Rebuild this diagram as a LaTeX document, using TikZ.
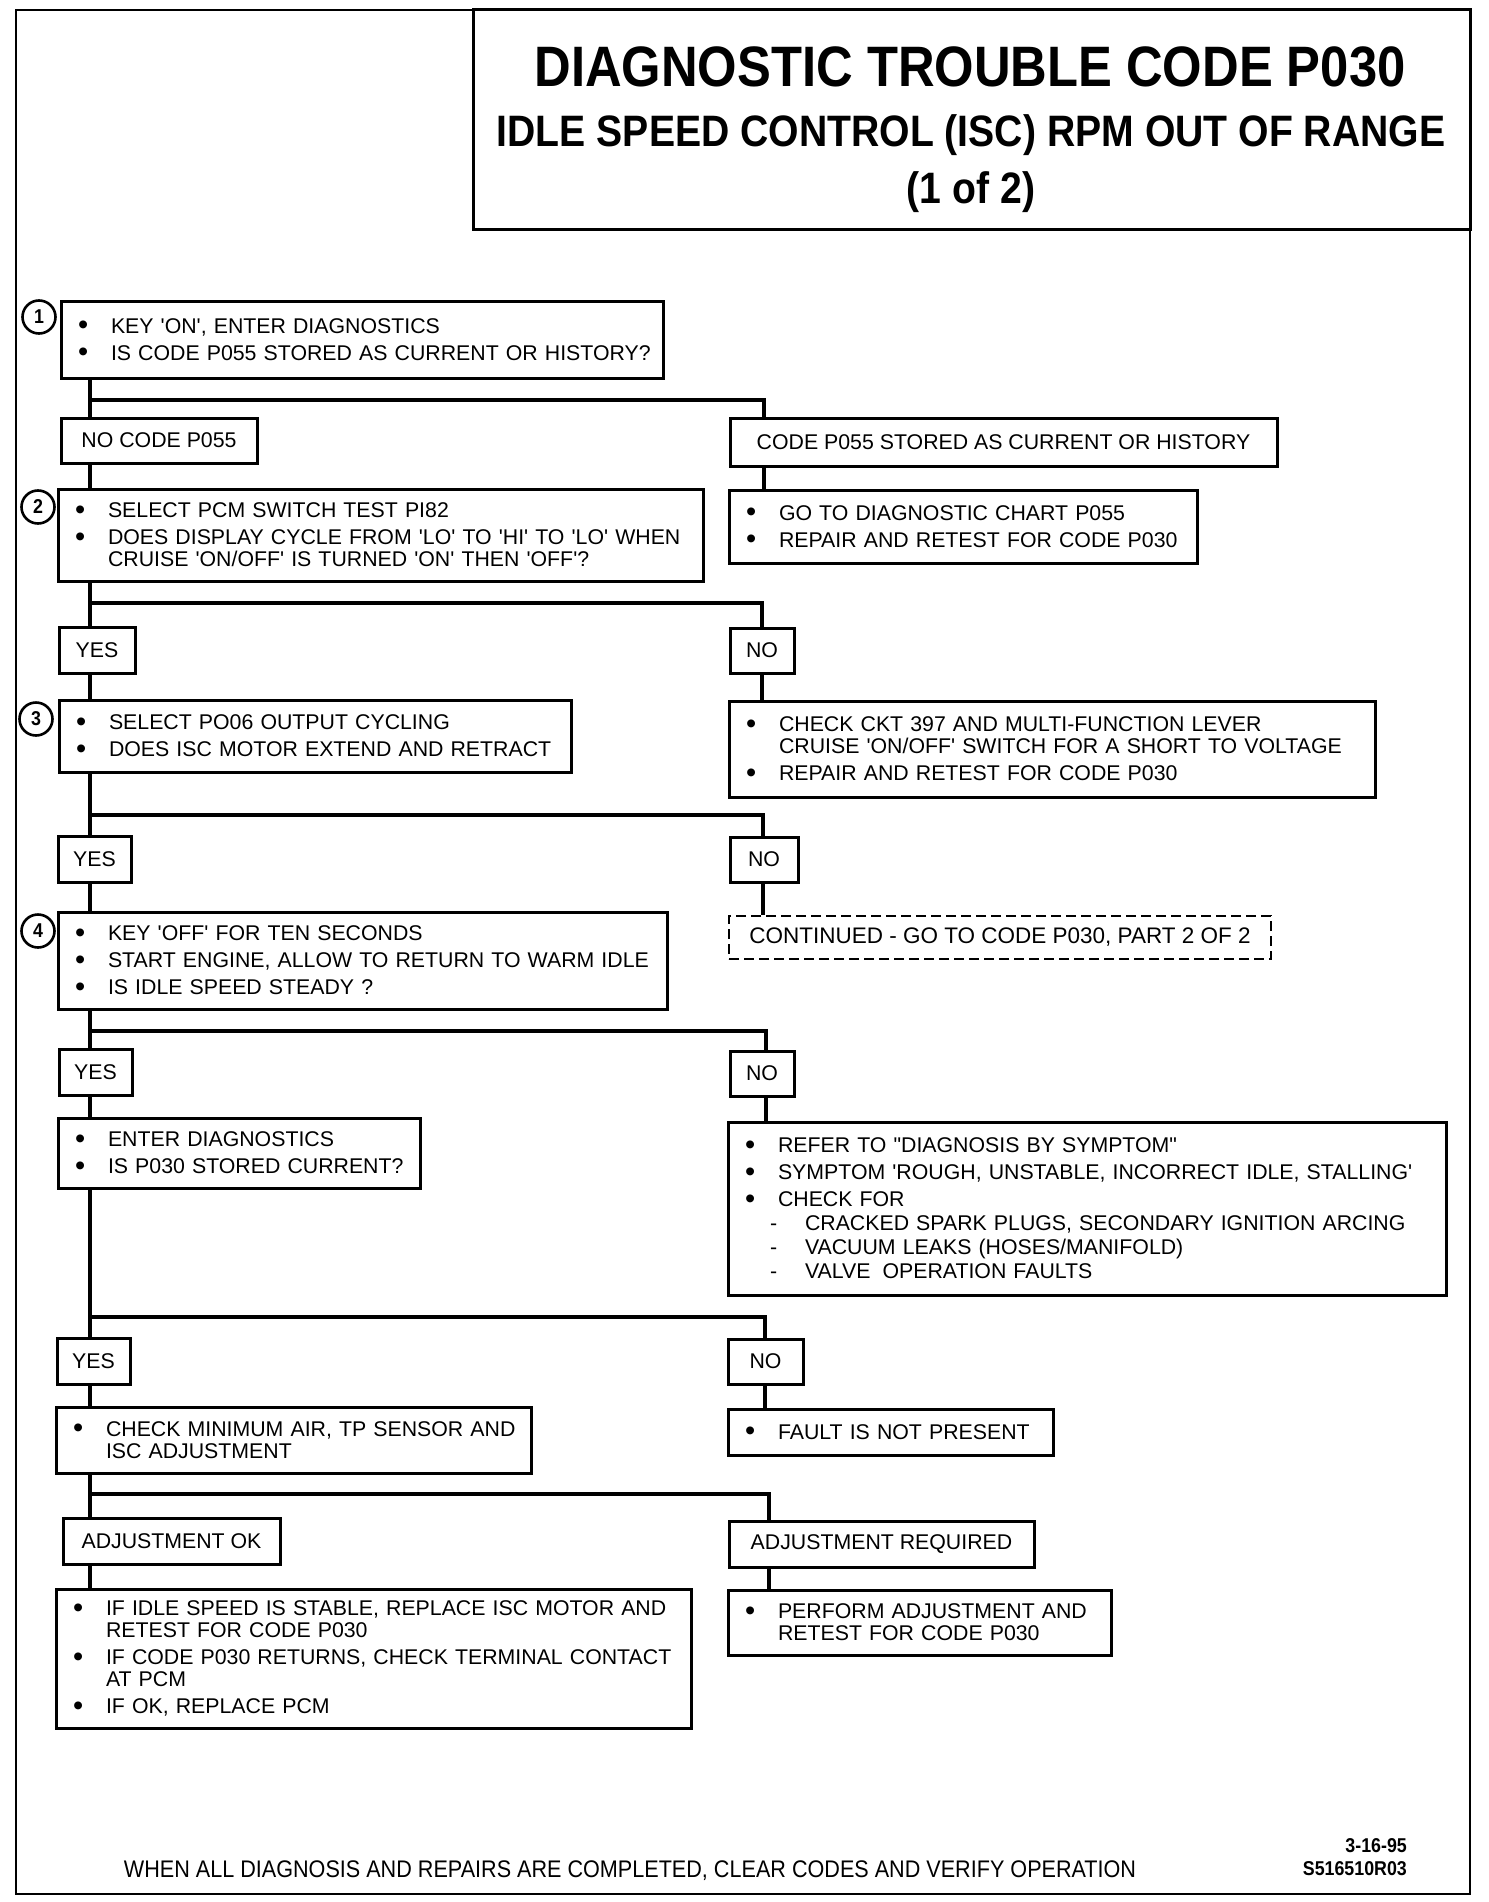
\documentclass[tikz,border=0pt]{standalone}
\usepackage{fontspec}
\setmainfont{Liberation Sans}[Ligatures=TeXOff]
\newfontfamily\titlefont{Liberation Sans}[FakeStretch=0.89]
\newfontfamily\footfont{Liberation Sans}[FakeStretch=0.9]
\newcommand\bodyfont{\fontsize{21.3}{22}\selectfont}
\newcommand\bl[1]{\makebox[46pt][l]{\hspace{13pt}\raisebox{-1.5pt}[0pt][0pt]{\fontsize{29}{22}\selectfont\textbullet}}\mbox{#1}}
\newcommand\cl[1]{\hspace*{46pt}\mbox{#1}}
\newcommand\dl[1]{\hspace*{38pt}\makebox[35pt][l]{-}\mbox{#1}}
\hyphenpenalty=10000
\exhyphenpenalty=10000
\tikzset{
  bx/.style n args={3}{draw, line width=3pt, align=left, inner xsep=4pt, inner ysep=0pt,
    font=\bodyfont, minimum width=#1pt, text width=#2pt, minimum height=#3pt},
  lab/.style n args={2}{draw, line width=3pt, align=center, inner sep=0pt,
    font=\bodyfont, minimum width=#1pt, minimum height=#2pt},
  conn/.style={line width=4pt},
  num/.style={circle, draw, line width=2.6pt, minimum size=33pt, inner sep=0pt,
    font=\titlefont\bfseries\fontsize{20}{20}\selectfont}
}
\begin{document}
\begin{tikzpicture}[x=1pt,y=-1pt]
\useasboundingbox (0,0) rectangle (1488,1902);
% frame and title
\draw[line width=2pt] (16,10) rectangle (1470,1894);
\node[draw, line width=3pt, minimum width=997pt, minimum height=220pt, inner sep=0pt] (title) at (971.5,120) {};
\node[font=\titlefont\bfseries\fontsize{57}{57}\selectfont] (t1) at (970,67) {DIAGNOSTIC TROUBLE CODE P030};
\node[font=\titlefont\bfseries\fontsize{44}{44}\selectfont] (t2) at (971,135) {IDLE SPEED CONTROL (ISC) RPM OUT OF RANGE};
\node[font=\titlefont\bfseries\fontsize{44}{44}\selectfont] (t3) at (971,192) {(1 of 2)};

% step numbers
\node[num] (n1) at (39,317) {1};
\node[num] (n2) at (38,507) {2};
\node[num] (n3) at (36,719) {3};
\node[num] (n4) at (38,931) {4};

% left column
\node[bx={602}{594}{77}] (b1) at (362,339.5) {\bl{KEY 'ON', ENTER DIAGNOSTICS}\\[5pt]\bl{IS CODE P055 STORED AS CURRENT OR HISTORY?}};
\node[lab={196}{45}] (nocode) at (159,440.5) {NO CODE P055};
\node[bx={645}{637}{92}] (b2) at (380.5,535) {\bl{SELECT PCM SWITCH TEST PI82}\\[5pt]\bl{DOES DISPLAY CYCLE FROM 'LO' TO 'HI' TO 'LO' WHEN}\\\cl{CRUISE 'ON/OFF' IS TURNED 'ON' THEN 'OFF'?}};
\node[lab={76}{46}] (yes2) at (97,650) {YES};
\node[bx={512}{504}{72}] (b3) at (315,736) {\bl{SELECT PO06 OUTPUT CYCLING}\\[5pt]\bl{DOES ISC MOTOR EXTEND AND RETRACT}};
\node[lab={73}{46}] (yes3) at (94.5,859) {YES};
\node[bx={609}{601}{97}] (b4) at (362.5,960.5) {\bl{KEY 'OFF' FOR TEN SECONDS}\\[5pt]\bl{START ENGINE, ALLOW TO RETURN TO WARM IDLE}\\[5pt]\bl{IS IDLE SPEED STEADY ?}};
\node[lab={73}{46}] (yes4) at (95.5,1072) {YES};
\node[bx={362}{354}{70}] (b5) at (239,1153) {\bl{ENTER DIAGNOSTICS}\\[5pt]\bl{IS P030 STORED CURRENT?}};
\node[lab={73}{46}] (yes5) at (93.5,1361) {YES};
\node[bx={475}{467}{66}] (b6) at (293.5,1440) {\bl{CHECK MINIMUM AIR, TP SENSOR AND}\\\cl{ISC ADJUSTMENT}};
\node[lab={217}{46}] (adjok) at (171.5,1541) {ADJUSTMENT OK};
\node[bx={635}{627}{139}] (b7) at (373.5,1658.5) {\bl{IF IDLE SPEED IS STABLE, REPLACE ISC MOTOR AND}\\\cl{RETEST FOR CODE P030}\\[5pt]\bl{IF CODE P030 RETURNS, CHECK TERMINAL CONTACT}\\\cl{AT PCM}\\[5pt]\bl{IF OK, REPLACE PCM}};

% right column
\node[lab={547}{48}] (code) at (1003.5,442) {CODE P055 STORED AS CURRENT OR HISTORY};
\node[bx={468}{460}{73}] (r1) at (963,526.5) {\bl{GO TO DIAGNOSTIC CHART P055}\\[5pt]\bl{REPAIR AND RETEST FOR CODE P030}};
\node[lab={64}{45}] (no2) at (762,650.5) {NO};
\node[bx={646}{638}{96}] (r2) at (1052,749) {\bl{CHECK CKT 397 AND MULTI-FUNCTION LEVER}\\\cl{CRUISE 'ON/OFF' SWITCH FOR A SHORT TO VOLTAGE}\\[5pt]\bl{REPAIR AND RETEST FOR CODE P030}};
\node[lab={68}{45}] (no3) at (764,859.5) {NO};
\node[draw, line width=2.6pt, dash pattern=on 10pt off 5pt, inner sep=0pt, font=\bodyfont,
  minimum width=542pt, minimum height=43pt] (cont) at (1000,937.5) {\fontsize{22.5}{22}\selectfont CONTINUED - GO TO CODE P030, PART 2 OF 2};
\node[lab={64}{45}] (no4) at (762,1073.5) {NO};
\node[bx={718}{710}{173}] (r4) at (1087,1208.5) {\bl{REFER TO "DIAGNOSIS BY SYMPTOM"}\\[5pt]\bl{SYMPTOM 'ROUGH, UNSTABLE, INCORRECT IDLE, STALLING'}\\[5pt]\bl{CHECK FOR}\\[2pt]\dl{CRACKED SPARK PLUGS, SECONDARY IGNITION ARCING}\\[2pt]\dl{VACUUM LEAKS (HOSES/MANIFOLD)}\\[2pt]\dl{VALVE\hspace{12pt}OPERATION FAULTS}};
\node[lab={75}{45}] (no5) at (765.5,1361.5) {NO};
\node[bx={325}{317}{46}] (r5) at (890.5,1432) {\bl{FAULT IS NOT PRESENT}};
\node[lab={305}{46}] (adjreq) at (881.5,1544) {ADJUSTMENT REQUIRED};
\node[bx={383}{375}{65}] (r6) at (919.5,1622.5) {\bl{PERFORM ADJUSTMENT AND}\\\cl{RETEST FOR CODE P030}};

% footer
\node[font=\footfont\fontsize{24}{24}\selectfont] (foot) at (630,1871) {WHEN ALL DIAGNOSIS AND REPAIRS ARE COMPLETED, CLEAR CODES AND VERIFY OPERATION};
\node[anchor=east, font=\titlefont\bfseries\fontsize{20}{20}\selectfont, inner sep=0pt] (date) at (1407,1846) {3-16-95};
\node[anchor=east, font=\titlefont\bfseries\fontsize{20}{20}\selectfont, inner sep=0pt] (ref) at (1407,1869) {S516510R03};

% connectors
\coordinate (T) at (90,0);
\coordinate (j1) at (90,400);  \coordinate (R1) at (764,400);
\coordinate (j2) at (90,603);  \coordinate (R2) at (762,603);
\coordinate (j3) at (90,815);  \coordinate (R3) at (763,815);
\coordinate (j4) at (90,1031); \coordinate (R4) at (766,1031);
\coordinate (j5) at (90,1317); \coordinate (R5) at (765,1317);
\coordinate (j6) at (90,1494); \coordinate (R6) at (769,1494);

\draw[conn] (b1.south -| T) -- (nocode.north -| T);
\draw[conn] (nocode.south -| T) -- (b2.north -| T);
\draw[conn] (b2.south -| T) -- (yes2.north -| T);
\draw[conn] (yes2.south -| T) -- (b3.north -| T);
\draw[conn] (b3.south -| T) -- (yes3.north -| T);
\draw[conn] (yes3.south -| T) -- (b4.north -| T);
\draw[conn] (b4.south -| T) -- (yes4.north -| T);
\draw[conn] (yes4.south -| T) -- (b5.north -| T);
\draw[conn] (b5.south -| T) -- (yes5.north -| T);
\draw[conn] (yes5.south -| T) -- (b6.north -| T);
\draw[conn] (b6.south -| T) -- (adjok.north -| T);
\draw[conn] (adjok.south -| T) -- (b7.north -| T);

\draw[conn] (j1) -| (code.north -| R1);
\draw[conn] (code.south -| R1) -- (r1.north -| R1);
\draw[conn] (j2) -| (no2.north -| R2);
\draw[conn] (no2.south -| R2) -- (r2.north -| R2);
\draw[conn] (j3) -| (no3.north -| R3);
\draw[conn] (no3.south -| R3) -- (cont.north -| R3);
\draw[conn] (j4) -| (no4.north -| R4);
\draw[conn] (no4.south -| R4) -- (r4.north -| R4);
\draw[conn] (j5) -| (no5.north -| R5);
\draw[conn] (no5.south -| R5) -- (r5.north -| R5);
\draw[conn] (j6) -| (adjreq.north -| R6);
\draw[conn] (adjreq.south -| R6) -- (r6.north -| R6);
\end{tikzpicture}
\end{document}
